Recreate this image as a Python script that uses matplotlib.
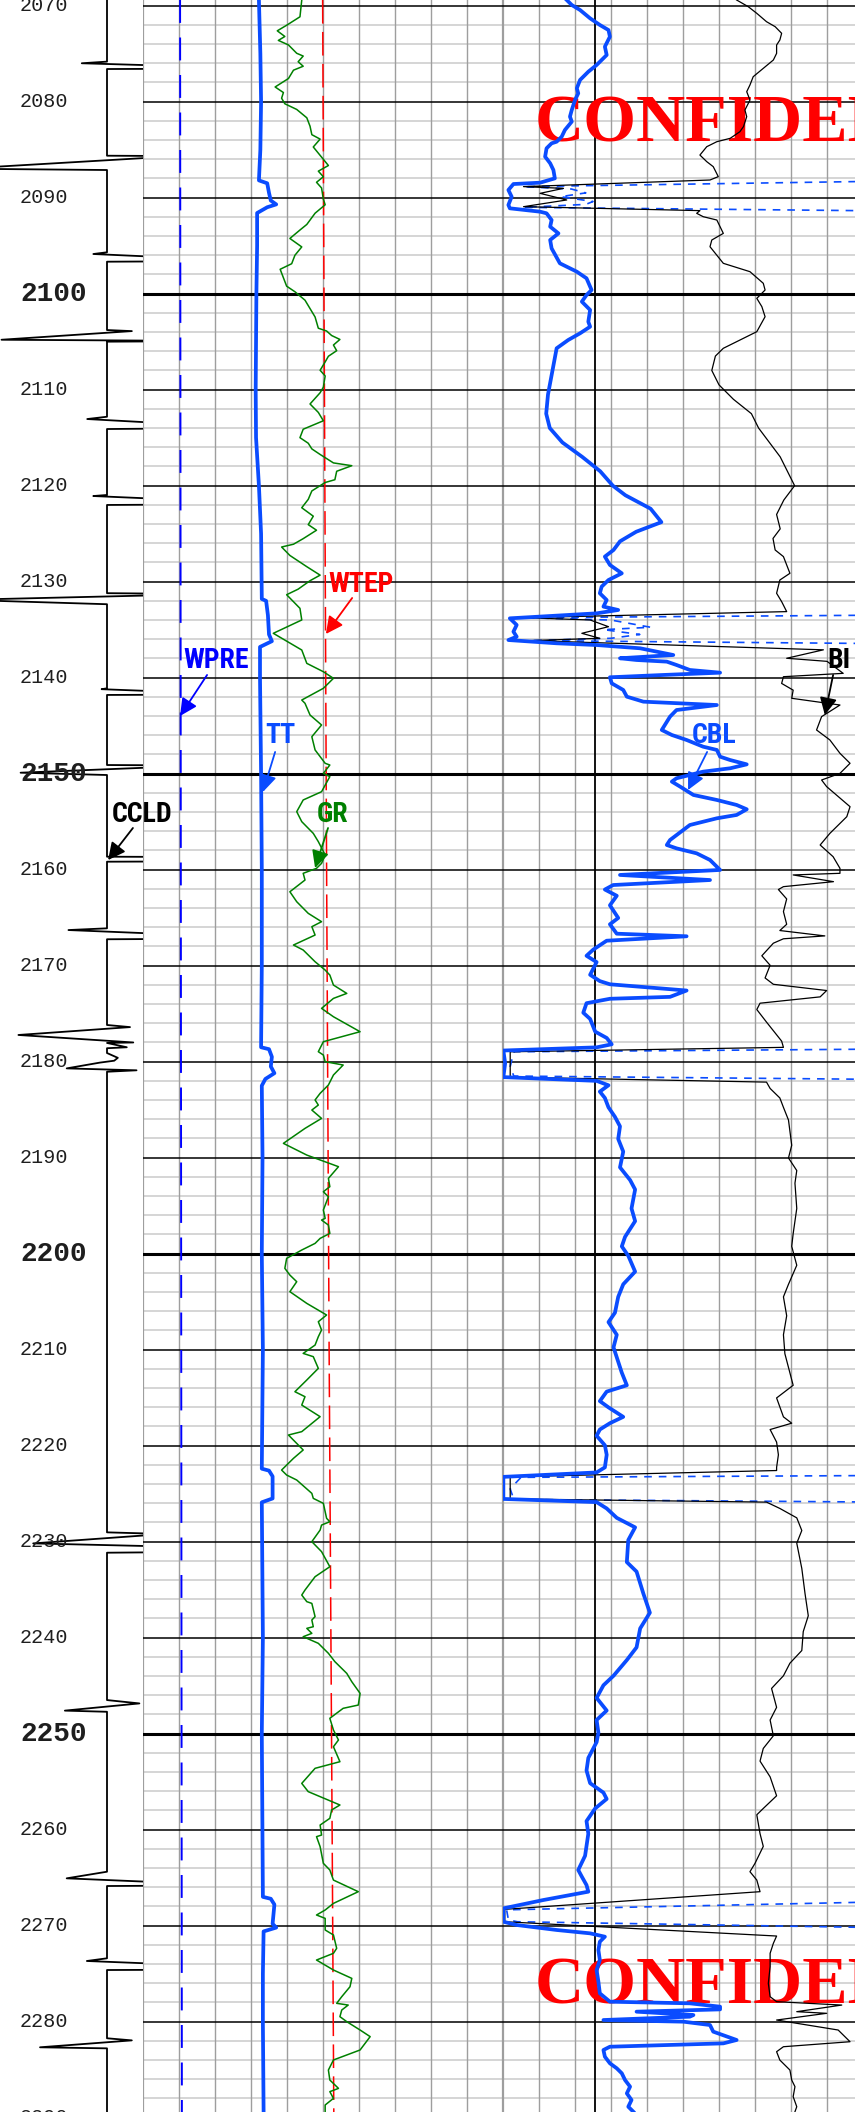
import matplotlib
matplotlib.use("Agg")
import matplotlib.pyplot as plt
import matplotlib.transforms as mtransforms
import numpy as np

plt.rcParams['lines.scale_dashes'] = False

# ---------------- data (depth in m, value in track divisions 0-10) ----------------
DEPTH_TOP, DEPTH_BOTTOM = 2069.41, 2289.41
depth_labels = list(range(2070, 2300, 10))

wpre = [(2069.41, 1.03), (2289.41, 1.08)]
wtep = [(2069.41, 4.99), (2160, 5.10), (2210, 5.17), (2264, 5.26), (2289.41, 5.30)]

tt = [(2069.41, 3.22), (2075, 3.26), (2080, 3.28), (2085, 3.26), (2088.2, 3.22), (2088.5, 3.45),
      (2089.5, 3.50), (2090.3, 3.55), (2090.7, 3.70), (2091.0, 3.45), (2091.6, 3.17), (2095, 3.17),
      (2100, 3.15), (2110, 3.13), (2115, 3.14), (2120, 3.22), (2125, 3.28), (2131.8, 3.30),
      (2132.0, 3.42), (2133.5, 3.47), (2135.5, 3.50), (2136.2, 3.58), (2136.8, 3.25), (2140, 3.25),
      (2150, 3.28), (2160, 3.30), (2170, 3.30), (2178.5, 3.28), (2178.7, 3.50), (2179.5, 3.58),
      (2180.5, 3.55), (2181.2, 3.65), (2181.8, 3.40), (2182.5, 3.30), (2190, 3.32), (2200, 3.30),
      (2210, 3.33), (2222.4, 3.30), (2222.6, 3.50), (2223.2, 3.60), (2225.5, 3.60), (2225.9, 3.30),
      (2240, 3.33), (2250, 3.30), (2267.0, 3.33), (2267.2, 3.55), (2267.8, 3.65), (2269.8, 3.60),
      (2270.2, 3.70), (2270.6, 3.35), (2275, 3.33), (2280, 3.33), (2289.41, 3.35)]

gr = [(2069.41, 4.41), (2071.16, 4.36), (2072.04, 3.99), (2072.62, 3.73), (2073.21, 3.94), (2073.62, 3.76),
      (2074.09, 4.04), (2074.96, 4.27), (2075.25, 4.45), (2075.84, 4.31), (2076.31, 4.45), (2076.72, 4.18),
      (2077.59, 4.04), (2078.47, 3.67), (2079.05, 3.90), (2079.64, 3.85), (2080.22, 3.94), (2080.81, 4.27),
      (2081.68, 4.55), (2082.56, 4.64), (2083.44, 4.69), (2083.90, 4.92), (2084.72, 4.73), (2085.77, 4.96),
      (2086.65, 5.15), (2087.24, 4.87), (2087.82, 5.01), (2088.40, 4.82), (2088.99, 4.96), (2090.16, 5.01),
      (2090.74, 5.06), (2091.62, 4.78), (2092.79, 4.55), (2093.37, 4.36), (2094.25, 4.08), (2095.13, 4.41),
      (2096.00, 4.22), (2096.88, 4.13), (2097.46, 3.81), (2098.34, 3.90), (2099.22, 3.99), (2099.80, 4.22),
      (2100.68, 4.50), (2101.55, 4.64), (2102.43, 4.78), (2103.60, 4.87), (2103.89, 5.10), (2104.36, 5.24),
      (2104.77, 5.47), (2105.35, 5.29), (2105.94, 5.38), (2106.52, 5.15), (2107.11, 5.06), (2107.98, 4.92),
      (2108.57, 5.06), (2109.74, 5.01), (2110.32, 4.92), (2111.49, 4.64), (2112.37, 4.87), (2113.24, 5.01),
      (2114.12, 4.45), (2115.00, 4.36), (2115.58, 4.59), (2116.17, 4.69), (2116.75, 4.92), (2117.63, 5.29),
      (2117.92, 5.80), (2118.50, 5.38), (2119.38, 5.33), (2119.67, 5.06), (2120.55, 4.69), (2121.43, 4.59),
      (2122.30, 4.41), (2123.18, 4.73), (2124.06, 4.59), (2124.64, 4.82), (2125.52, 4.45), (2126.10, 4.18),
      (2126.39, 3.85), (2127.27, 4.08), (2128.44, 4.55), (2129.32, 4.92), (2129.90, 4.64), (2130.78, 4.31),
      (2131.36, 3.99), (2132.78, 4.36), (2133.99, 4.41), (2135.38, 3.62), (2137.12, 4.41), (2138.51, 4.55),
      (2139.38, 5.01), (2140.07, 5.29), (2141.11, 5.01), (2142.33, 4.41), (2142.67, 4.50), (2143.89, 4.64),
      (2144.93, 4.96), (2146.15, 4.69), (2147.53, 4.78), (2148.92, 5.06), (2149.10, 5.19), (2149.97, 5.01),
      (2150.31, 5.19), (2151.88, 4.96), (2152.74, 4.45), (2153.96, 4.27), (2155.00, 4.41), (2156.22, 4.73),
      (2157.08, 4.87), (2158.47, 5.06), (2159.34, 4.96), (2159.86, 4.82), (2160.38, 4.45), (2161.08, 4.50),
      (2162.30, 4.08), (2163.34, 4.27), (2164.55, 4.59), (2165.42, 4.96), (2165.94, 4.69), (2166.81, 4.78),
      (2167.85, 4.18), (2168.37, 4.45), (2169.59, 4.78), (2170.46, 5.06), (2170.98, 5.19), (2172.02, 5.29),
      (2172.89, 5.66), (2173.41, 5.29), (2174.45, 4.96), (2175.32, 5.29), (2176.88, 6.03), (2177.92, 5.01),
      (2178.96, 4.87), (2179.31, 5.01), (2180.00, 5.06), (2180.35, 5.56), (2181.39, 5.29), (2182.43, 5.15),
      (2183.30, 4.92), (2183.99, 4.78), (2184.52, 4.87), (2185.04, 4.69), (2185.91, 4.96), (2186.95, 4.50),
      (2188.51, 3.90), (2189.73, 4.55), (2190.94, 5.43), (2192.16, 5.15), (2193.02, 5.19), (2193.55, 5.01),
      (2194.07, 5.15), (2195.45, 5.01), (2196.32, 5.06), (2196.50, 4.96), (2197.02, 5.15), (2197.89, 5.19),
      (2198.41, 4.92), (2198.93, 4.78), (2199.62, 4.41), (2200.49, 3.99), (2201.53, 3.94), (2202.23, 4.08),
      (2202.92, 4.27), (2203.96, 4.08), (2205.18, 4.55), (2206.39, 5.10), (2207.09, 4.87), (2207.95, 4.96),
      (2208.65, 4.87), (2209.52, 4.78), (2210.39, 4.45), (2210.73, 4.73), (2211.95, 4.87), (2213.16, 4.55),
      (2214.38, 4.22), (2214.90, 4.50), (2215.77, 4.41), (2216.98, 4.92), (2218.54, 4.41), (2218.89, 4.04),
      (2220.45, 4.45), (2221.32, 4.18), (2222.54, 3.85), (2223.06, 3.99), (2223.58, 4.27), (2224.97, 4.69),
      (2225.49, 4.73), (2226.01, 5.01), (2227.57, 5.10), (2227.92, 5.19), (2228.27, 4.96), (2228.79, 4.92),
      (2230.00, 4.69), (2231.04, 4.96), (2232.61, 5.19), (2233.65, 4.78), (2235.04, 4.50), (2235.56, 4.41),
      (2236.25, 4.55), (2236.43, 4.69), (2237.81, 4.78), (2238.16, 4.69), (2238.86, 4.73), (2239.03, 4.55),
      (2239.55, 4.69), (2239.90, 4.45), (2240.59, 4.87), (2241.63, 5.15), (2242.50, 5.33), (2243.72, 5.66),
      (2244.59, 5.80), (2245.80, 6.03), (2247.02, 5.98), (2247.36, 5.56), (2248.40, 5.19), (2249.62, 5.29),
      (2250.66, 5.43), (2251.36, 5.29), (2252.92, 5.47), (2253.61, 4.78), (2255.18, 4.41), (2256.04, 4.59),
      (2257.43, 5.47), (2257.95, 5.24), (2258.82, 5.19), (2259.52, 4.92), (2260.56, 4.96), (2260.73, 4.82),
      (2261.77, 4.92), (2263.51, 5.01), (2264.20, 5.19), (2265.25, 5.29), (2266.46, 5.98), (2267.68, 5.29),
      (2268.37, 5.06), (2268.89, 4.82), (2269.24, 5.06), (2270.45, 5.06), (2270.97, 5.29), (2272.36, 5.38),
      (2272.88, 5.29), (2273.58, 4.82), (2274.62, 5.29), (2275.49, 5.80), (2276.36, 5.75), (2277.40, 5.52),
      (2278.09, 5.38), (2278.27, 5.70), (2278.79, 5.52), (2279.48, 5.47), (2280.00, 5.66), (2280.87, 6.03),
      (2281.56, 6.31), (2282.95, 6.03), (2283.99, 5.29), (2285.04, 5.15), (2286.08, 5.19), (2286.95, 5.43),
      (2287.29, 5.19), (2287.99, 5.29), (2288.68, 5.06), (2289.38, 5.06)]

ccl = [(2069.41, 0),
       (2075.83, 0), (2076.00, -0.70), (2076.25, 1.6), (2076.58, 1.6), (2076.60, 0),
       (2085.63, 0), (2085.66, 1.6), (2085.75, 1.6), (2086.87, -3.5), (2087.0, -3.5), (2087.12, 0),
       (2095.69, 0), (2095.87, -0.38), (2096.2, 1.6), (2096.64, 1.6), (2096.67, 0),
       (2103.79, 0), (2103.9, 0.69), (2104.8, -2.93), (2104.9, 1.6), (2104.97, 1.6), (2105.0, 0),
       (2112.82, 0), (2113.06, -0.55), (2113.5, 1.6), (2114.05, 1.6), (2114.1, 0),
       (2120.97, 0), (2121.08, -0.38), (2121.4, 1.6), (2121.98, 1.6), (2122.01, 0),
       (2131.2, 0), (2131.25, 1.6), (2131.4, 1.6), (2131.85, -3.5), (2131.95, -3.5), (2132.35, 0),
       (2141.11, 0), (2141.2, -0.15), (2141.45, 1.6), (2141.78, 1.6), (2141.8, 0),
       (2149.1, 0), (2149.13, 1.6), (2149.3, 1.6), (2149.9, -2.4), (2150.14, 0),
       (2158.65, 0), (2158.67, 1.6), (2159.15, 1.6), (2159.17, 0),
       (2166.11, 0), (2166.29, -1.07), (2166.7, 1.6), (2167.22, 1.6), (2167.25, 0),
       (2176.18, 0), (2176.4, 0.64), (2177.22, -2.46), (2178.0, 0.73), (2178.05, 0.0), (2178.5, 0.55),
       (2178.6, 0), (2179.1, 0), (2179.6, 0.3), (2179.9, 0.2), (2180.1, -0.2), (2180.7, -1.12),
       (2180.9, 0.82), (2181.05, 0),
       (2229.03, 0), (2229.2, 1.6), (2230.18, -2.05), (2230.5, 1.6), (2231.1, 1.6), (2231.15, 0),
       (2246.5, 0), (2246.85, 0.9), (2247.6, -1.17), (2247.72, 0),
       (2264.38, 0), (2265.07, -1.12), (2265.5, 1.6), (2265.84, 1.6), (2265.87, 0),
       (2273.4, 0), (2273.68, -0.56), (2274.0, 1.6), (2274.6, 1.6), (2274.62, 0),
       (2281.73, 0), (2281.95, 0.69), (2282.67, -1.86), (2282.78, 0),
       (2289.41, 0)]

cbl = [(2069.41, 1.77), (2069.93, 1.91), (2070.45, 2.14), (2071.32, 2.42), (2072.01, 2.69), (2072.54, 2.93),
       (2073.23, 2.97), (2074.27, 2.83), (2075.14, 2.88), (2075.66, 2.74), (2076.18, 2.60), (2076.88, 2.37),
       (2077.74, 2.14), (2078.61, 2.05), (2079.13, 2.09), (2079.83, 2.00), (2080.87, 1.91), (2081.56, 1.86),
       (2082.08, 1.91), (2082.95, 1.72), (2083.65, 1.63), (2084.17, 1.49), (2084.34, 1.35), (2084.86, 1.21),
       (2085.73, 1.17), (2086.42, 1.31), (2087.12, 1.40), (2087.99, 1.44), (2088.44, 1.03), (2088.58, 0.29),
       (2089.20, 0.15), (2089.90, 0.24), (2090.76, 0.15), (2091.11, 0.19), (2091.46, 1.03), (2091.63, 1.21),
       (2092.33, 1.35), (2093.02, 1.31), (2093.72, 1.54), (2094.41, 1.31), (2095.28, 1.35), (2096.84, 1.58),
       (2097.71, 2.05), (2098.40, 2.32), (2099.62, 2.46), (2100.14, 2.32), (2100.83, 2.19), (2101.70, 2.42),
       (2102.92, 2.37), (2103.44, 2.42), (2104.13, 2.14), (2104.83, 1.81), (2105.69, 1.49),
       (2106.5, 1.45), (2108.5, 1.35), (2110.5, 1.25), (2112.5, 1.20), (2114.0, 1.30), (2115.5, 1.65),
       (2117.0, 2.20), (2118.5, 2.70), (2120.0, 3.05), (2121.0, 3.40), (2122.4, 4.10), (2123.8, 4.40),
       (2124.8, 3.70), (2125.8, 3.25),
       (2126.70, 3.07), (2127.39, 2.83), (2128.26, 2.97), (2129.13, 3.30), (2129.83, 2.93), (2130.52, 2.74),
       (2131.21, 2.69), (2131.91, 2.88), (2132.60, 2.79), (2132.95, 3.20), (2133.30, 2.60), (2133.82, 0.19),
       (2134.51, 0.38), (2135.21, 0.29), (2135.73, 0.38), (2136.08, 0.15), (2136.42, 1.49), (2136.60, 2.60),
       (2136.94, 3.81), (2137.64, 4.73), (2137.98, 3.25), (2138.16, 3.71), (2138.33, 4.55), (2138.68, 4.82),
       (2139.20, 5.19), (2139.48, 6.03), (2139.72, 4.45), (2139.96, 2.97), (2140.59, 3.02), (2141.28, 3.34),
       (2141.98, 3.44), (2142.50, 3.90), (2142.85, 5.94), (2143.37, 4.82), (2144.06, 4.64), (2145.45, 4.41),
       (2145.97, 4.69), (2146.49, 5.10), (2147.19, 5.56), (2147.53, 5.94), (2148.23, 6.03), (2148.58, 6.31),
       (2149.03, 6.77), (2149.44, 6.31), (2149.79, 5.56), (2150.48, 4.82), (2150.83, 4.69), (2151.35, 4.92),
       (2152.22, 5.29), (2152.74, 5.94), (2153.26, 6.49), (2153.71, 6.77), (2154.30, 6.49), (2154.65, 5.94),
       (2155.35, 5.19), (2156.91, 4.64), (2157.43, 4.55), (2157.78, 4.82), (2158.30, 5.38), (2158.99, 5.75),
       (2160.03, 6.03), (2160.55, 3.25), (2161.08, 5.75), (2161.6, 3.06), (2162.07, 2.83), (2162.72, 3.16),
       (2163.71, 2.97), (2165.03, 3.20), (2165.69, 2.97), (2166.67, 3.16), (2166.94, 5.10), (2167.40, 2.88),
       (2168.32, 2.51), (2168.97, 2.32), (2169.63, 2.60), (2170.95, 2.42), (2171.61, 2.69), (2171.94, 2.97),
       (2172.59, 5.10), (2173.25, 4.64), (2173.45, 2.97), (2173.91, 2.32), (2174.90, 2.23), (2175.55, 2.42),
       (2176.87, 2.56), (2177.53, 2.88), (2178.19, 3.02), (2178.51, 2.60), (2178.84, 0.01), (2180.16, 0.06),
       (2181.61, 0.01), (2182.00, 2.60), (2182.46, 2.93), (2183.12, 2.69), (2183.78, 2.83), (2184.76, 2.93),
       (2185.75, 3.11), (2186.74, 3.25), (2188.05, 3.20), (2189.37, 3.34), (2191.01, 3.25), (2192.33, 3.53),
       (2193.32, 3.67), (2195.29, 3.57), (2196.61, 3.67), (2198.25, 3.39), (2199.24, 3.30), (2200.22, 3.48),
       (2201.87, 3.67), (2203.19, 3.34), (2204.50, 3.20), (2206.15, 3.11), (2207.13, 2.93), (2208.45, 3.16),
       (2209.76, 3.07), (2212.40, 3.30), (2213.71, 3.44), (2214.37, 2.88), (2215.36, 2.69), (2216.01, 2.93),
       (2217.00, 3.34), (2217.66, 2.97), (2218.32, 2.69), (2218.97, 2.60), (2219.96, 2.83), (2220.95, 2.88),
       (2222.26, 2.83), (2222.79, 2.60), (2223.25, 0.01), (2225.55, 0.01), (2225.88, 2.60), (2226.54, 2.88),
       (2227.52, 3.16), (2228.51, 3.67), (2229.83, 3.48), (2232.13, 3.44), (2233.12, 3.71), (2235.42, 3.90),
       (2237.40, 4.08), (2239.04, 3.81), (2241.01, 3.71), (2242.33, 3.44), (2243.97, 3.07), (2244.96, 2.79),
       (2246.28, 2.60), (2247.59, 2.88), (2248.58, 2.60), (2249.90, 2.65), (2250.88, 2.60), (2252.53, 2.37),
       (2253.84, 2.32), (2255.16, 2.42), (2256.14, 2.79), (2256.80, 2.88), (2257.79, 2.56), (2259.11, 2.32),
       (2260.42, 2.37), (2262.72, 2.28), (2264.20, 2.09), (2264.90, 2.19), (2265.77, 2.32), (2266.46, 2.37),
       (2267.33, 1.12), (2268.20, 0.01), (2269.59, 0.01), (2269.93, 0.38), (2270.45, 1.49), (2270.80, 2.42),
       (2271.15, 2.83), (2271.67, 2.69), (2272.54, 2.65), (2273.58, 2.69), (2274.62, 2.60), (2275.84, 2.65),
       (2277.05, 2.69), (2277.92, 2.97), (2278.09, 5.19), (2278.44, 6.03), (2278.72, 6.03), (2278.96, 3.71),
       (2279.31, 5.29), (2279.48, 5.19), (2279.83, 2.79), (2280.00, 5.01), (2280.35, 5.75), (2281.04, 5.84),
       (2281.91, 6.49), (2282.26, 6.12), (2282.61, 2.97), (2282.95, 2.79), (2283.65, 2.83), (2284.34, 2.97),
       (2284.86, 3.16), (2285.38, 3.30), (2286.08, 3.39), (2286.77, 3.53), (2287.47, 3.44), (2288.16, 3.57),
       (2288.86, 3.48), (2289.38, 3.62)]

bi = [(2069.41, 6.49), (2070.10, 6.81), (2070.80, 7.05), (2071.67, 7.32), (2072.19, 7.56), (2072.88, 7.74),
      (2073.58, 7.69), (2074.10, 7.60), (2074.97, 7.60), (2075.66, 7.51), (2076.53, 7.23), (2077.40, 6.95),
      (2078.26, 6.86), (2078.96, 6.77), (2079.83, 6.86), (2080.87, 6.72), (2081.56, 6.77), (2082.60, 6.68),
      (2083.13, 6.58), (2083.82, 6.31), (2084.17, 5.94), (2084.69, 5.66), (2085.56, 5.47), (2086.25, 5.66),
      (2086.77, 5.84), (2087.81, 5.98), (2088.16, 5.75), (2088.85, 0.57), (2089.03, 1.68), (2089.55, 1.03),
      (2090.24, 1.77), (2090.94, 0.57), (2091.35, 5.47), (2091.63, 5.38), (2091.98, 5.56), (2092.33, 5.94),
      (2093.72, 6.12), (2094.41, 5.80), (2095.11, 5.75), (2096.84, 6.12), (2097.71, 6.86), (2098.92, 7.23),
      (2099.62, 7.28), (2100.49, 7.05), (2101.35, 7.19), (2102.40, 7.28), (2103.96, 7.05), (2105.69, 6.12),
      (2106.5, 5.9), (2108.0, 5.8), (2109.5, 6.0), (2111.0, 6.4), (2112.5, 6.9), (2114.0, 7.1),
      (2115.5, 7.4), (2117.0, 7.7), (2118.5, 7.9), (2120.0, 8.1), (2121.5, 7.8), (2123.0, 7.6),
      (2124.5, 7.7), (2125.5, 7.5),
      (2126.70, 7.56), (2127.39, 7.79), (2129.13, 7.97), (2129.83, 7.69), (2131.21, 7.60), (2132.08, 7.74),
      (2133.12, 7.88), (2133.75, 0.57), (2133.99, 2.42), (2134.69, 2.93), (2135.38, 2.19), (2135.90, 2.69),
      (2136.14, 0.75), (2137.1, 8.9), (2137.98, 7.88), (2138.3, 9.0), (2139.55, 9.45), (2139.9, 7.79),
      (2140.6, 7.74), (2141.3, 8.06), (2142.15, 8.02), (2142.85, 9.36), (2144.06, 8.85), (2145.45, 8.71),
      (2146.49, 9.08), (2147.88, 9.36), (2148.92, 9.64), (2149.97, 9.36), (2150.66, 8.85), (2151.35, 8.99),
      (2153.44, 9.64), (2154.48, 9.55), (2156.22, 9.08), (2157.43, 8.81), (2158.65, 9.17), (2159.86, 9.36),
      (2160.38, 9.36), (2160.55, 8.06), (2161.25, 9.18), (2161.77, 7.79), (2162.07, 7.65), (2163.05, 7.88),
      (2164.37, 7.79), (2165.69, 7.88), (2166.34, 7.69), (2166.9, 8.94), (2167.2, 7.79), (2167.66, 7.51),
      (2168.97, 7.19), (2169.96, 7.42), (2171.28, 7.28), (2171.94, 7.51), (2172.59, 8.99), (2173.25, 8.81),
      (2173.91, 7.14), (2174.57, 7.05), (2175.88, 7.32), (2177.20, 7.60), (2177.86, 7.74), (2178.51, 7.79),
      (2178.97, 0.2), (2181.61, 0.2), (2182.13, 7.32), (2182.79, 7.42), (2183.78, 7.69), (2184.76, 7.79),
      (2186.08, 7.93), (2188.71, 8.02), (2190.03, 7.93), (2191.34, 8.16), (2192.66, 8.11), (2195.29, 8.16),
      (2197.92, 8.06), (2199.24, 8.02), (2201.21, 8.16), (2203.19, 7.93), (2204.50, 7.79), (2206.47, 7.88),
      (2208.45, 7.79), (2210.42, 7.83), (2213.71, 8.06), (2215.03, 7.60), (2217.00, 7.79), (2217.66, 8.02),
      (2218.32, 7.42), (2219.63, 7.60), (2220.95, 7.65), (2222.26, 7.60), (2222.59, 7.60), (2223.25, 0.2),
      (2225.55, 0.2), (2225.88, 7.32), (2226.54, 7.69), (2227.52, 8.16), (2228.84, 8.30), (2230.16, 8.16),
      (2232.79, 8.30), (2235.42, 8.39), (2237.72, 8.48), (2239.37, 8.34), (2241.34, 8.30), (2242.66, 7.97),
      (2243.97, 7.79), (2245.29, 7.46), (2247.26, 7.60), (2248.58, 7.42), (2250.22, 7.51), (2251.54, 7.23),
      (2252.86, 7.14), (2254.50, 7.42), (2256.47, 7.60), (2257.79, 7.23), (2258.45, 7.05), (2260.42, 7.14),
      (2261.74, 7.23), (2263.51, 7.00), (2264.38, 6.86), (2265.25, 7.05), (2266.46, 7.14), (2268.30, 0.05),
      (2269.59, 0.05), (2271.08, 7.60), (2271.84, 7.51), (2272.88, 7.42), (2274.27, 7.42), (2276.01, 7.37),
      (2277.40, 7.42), (2277.92, 7.60), (2278.27, 9.41), (2278.96, 8.16), (2279.13, 8.99), (2279.83, 7.60),
      (2280.87, 9.31), (2282.09, 9.64), (2282.61, 7.79), (2283.13, 7.60), (2284.00, 7.69), (2285.04, 7.97),
      (2286.08, 8.02), (2286.77, 8.11), (2287.81, 8.06), (2288.86, 8.16), (2289.38, 8.11)]

amp = [(2069.41, 12), (2088.2, 12), (2088.85, 0.57), (2089.1, 1.9), (2089.5, 2.3), (2089.9, 1.6),
       (2090.4, 2.5), (2090.7, 2.3), (2091.01, 0.57), (2091.43, 12), (2133.45, 12), (2133.75, 0.57),
       (2134.0, 3.0), (2134.75, 4.1), (2135.0, 2.8), (2135.5, 3.8), (2135.9, 3.0), (2136.14, 0.75),
       (2136.5, 12), (2178.65, 12), (2178.97, 0.3), (2180.5, 0.2), (2181.5, 0.3), (2181.9, 12),
       (2223.08, 12), (2223.3, 0.5), (2224.5, 0.2), (2225.6, 0.3), (2225.92, 12), (2267.4, 12),
       (2268.35, 0.1), (2269.4, 0.15), (2269.59, 0.4), (2270.3, 12), (2289.41, 12)]

CBL_REFERENCE = 2.56
watermark_depths = [2084.17, 2278.08]

# ---------------- figure ----------------
W, H, DPI = 855, 2112, 100
fig = plt.figure(figsize=(W / DPI, H / DPI), dpi=DPI)
fig.patch.set_facecolor('white')

ax0 = fig.add_axes([0, 0, 143 / W, 1])
ax1 = fig.add_axes([143 / W, 0, 360 / W, 1])
ax2 = fig.add_axes([503 / W, 0, 360 / W, 1])

for ax in (ax0, ax1, ax2):
    ax.set_ylim(DEPTH_BOTTOM, DEPTH_TOP)
    ax.set_xticks([]); ax.set_yticks([])
    for s in ax.spines.values():
        s.set_visible(False)
    ax.patch.set_alpha(0)
ax0.set_xlim(-107 / 36, 1.0)
ax1.set_xlim(0, 10)
ax2.set_xlim(0, 10)
ax0.set_zorder(5)

BLUE = '#0a4cff'
LABEL_FONT = ['Liberation Sans Narrow', 'Roboto Condensed', 'DejaVu Sans']


def draw_grid(ax):
    for d in np.arange(2070, 2300, 2):
        if d % 10:
            ax.axhline(d, color='#cacaca', lw=1.1, zorder=0.5)
    for x in range(0, 11):
        ax.axvline(x, color='#9e9e9e', lw=1.6 if x == 0 else 1.0, zorder=0.6)
    for d in np.arange(2070, 2300, 10):
        ax.axhline(d, color='black', lw=2.2 if d % 50 == 0 else 1.1, zorder=0.7)


draw_grid(ax1)
draw_grid(ax2)
ax1.axvline(10, color='#9e9e9e', lw=1.6, zorder=0.6)


def unz(pairs):
    d, v = zip(*pairs)
    return np.array(v), np.array(d)


# depth track
v, d = unz(ccl)
ax0.plot(v, d, color='black', lw=1.3, zorder=2)
ytr = mtransforms.blended_transform_factory(ax0.transAxes, ax0.transData)
for dl in depth_labels:
    big = dl % 50 == 0
    ax0.text(20 / 143, dl, str(dl), transform=ytr, ha='left', va='center',
             family=['Liberation Mono', 'DejaVu Sans Mono'],
             fontsize=20 if big else 14.5, fontweight='bold' if big else 'normal',
             color='#1e1e1e', zorder=3)

# track 1
v, d = unz(wpre)
ax1.plot(v, d, color='#0000ff', lw=1.4, dashes=(16.5, 10.5), zorder=3)
v, d = unz(wtep)
ax1.plot(v, d, color='#ff0000', lw=1.1, dashes=(17, 6), zorder=3)
v, d = unz(gr)
ax1.plot(v, d, color='#008000', lw=1.1, zorder=3)
v, d = unz(tt)
ax1.plot(v, d, color=BLUE, lw=2.7, zorder=4, solid_joinstyle='round')

# track 2
for wd in watermark_depths:
    ax2.text(0.89, wd, 'CONFIDENTIAL', color='#ff0000', fontsize=49, fontweight='bold',
             family=['Liberation Serif', 'DejaVu Serif'], va='baseline', ha='left', zorder=1.5)
ax2.axvline(CBL_REFERENCE, color='black', lw=1.3, zorder=0.8)
v, d = unz(amp)
ax2.plot(v, d, color=BLUE, lw=1.2, dashes=(5.5, 5), zorder=3)
v, d = unz(bi)
ax2.plot(v, d, color='black', lw=0.9, zorder=3)
v, d = unz(cbl)
ax2.plot(v, d, color=BLUE, lw=2.7, zorder=4, solid_joinstyle='round')


def label(ax, text, pos, tail, head, color):
    ax.text(pos[0], pos[1], text, color=color, family=LABEL_FONT, fontsize=20,
            fontweight='bold', va='baseline', ha='left', zorder=6, clip_on=False)
    ax.annotate('', xy=head, xytext=tail,
                arrowprops=dict(arrowstyle='-|>', color=color, lw=1.3, mutation_scale=26,
                                shrinkA=0, shrinkB=0), zorder=6, annotation_clip=False)


label(ax1, 'WTEP', (5.14, 2131.08), (5.81, 2131.7), (5.08, 2135.45), '#ff0000')
label(ax1, 'WPRE', (1.11, 2138.99), (1.78, 2139.72), (1.03, 2143.99), '#0000ff')
label(ax1, 'TT', (3.39, 2146.81), (3.67, 2147.74), (3.33, 2151.91), BLUE)
label(ax1, 'GR', (4.83, 2155.04), (5.14, 2155.66), (4.78, 2159.83), '#008000')
label(ax0, 'CCLD', (0.14, 2155.04), (0.72, 2155.66), (0.03, 2159.0), 'black')
label(ax2, 'CBL', (5.25, 2146.81), (5.67, 2147.74), (5.14, 2151.7), BLUE)
label(ax2, 'BI', (9.0, 2138.99), (9.17, 2139.72), (8.94, 2143.89), 'black')

fig.savefig('out.png', dpi=DPI, facecolor='white')
